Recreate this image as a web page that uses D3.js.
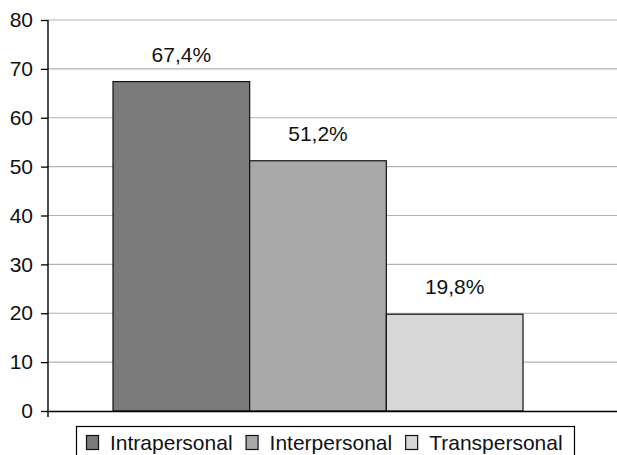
<!DOCTYPE html>
<html>
<head>
<meta charset="utf-8">
<script src="https://cdn.jsdelivr.net/npm/d3@7"></script>
<style>
  html, body { margin: 0; padding: 0; background: #fff; }
  svg { display: block; font-family: "Liberation Sans", Arial, Helvetica, sans-serif; }
</style>
</head>
<body>
<svg id="chart" width="617" height="455"></svg>
<script>
const series = ["Intrapersonal", "Interpersonal", "Transpersonal"];
const values = [67.4, 51.2, 19.8];
const valueLabels = ["67,4%", "51,2%", "19,8%"];
const colors = ["#7b7b7b", "#a9a9a9", "#d7d7d7"];
const yTicks = [0, 10, 20, 30, 40, 50, 60, 70, 80];

(function () {
const svg = d3.select("#chart");
const plotLeft = 48, plotRight = 617, plotTop = 20, plotBottom = 411;
const fontSize = 21;

const y = d3.scaleLinear().domain([0, 80]).range([plotBottom, plotTop]);
const x = d3.scaleBand().domain(series).range([113, 523]).paddingInner(0).paddingOuter(0);
const color = d3.scaleOrdinal().domain(series).range(colors);

// gridlines
svg.append("g")
  .selectAll("line")
  .data(yTicks.filter(d => d > 0))
  .join("line")
  .attr("x1", plotLeft).attr("x2", plotRight)
  .attr("y1", d => y(d)).attr("y2", d => y(d))
  .attr("stroke", "#b3b3b3").attr("stroke-width", 1.2);

// bars
svg.append("g")
  .selectAll("rect")
  .data(series)
  .join("rect")
  .attr("x", d => x(d))
  .attr("y", (d, i) => y(values[i]))
  .attr("width", x.bandwidth())
  .attr("height", (d, i) => y(0) - y(values[i]))
  .attr("fill", d => color(d))
  .attr("stroke", "#111").attr("stroke-width", 1.2);

// value labels
svg.append("g")
  .selectAll("text")
  .data(series)
  .join("text")
  .attr("x", d => x(d) + x.bandwidth() / 2)
  .attr("y", (d, i) => y(values[i]) - 20)
  .attr("text-anchor", "middle")
  .attr("font-size", fontSize)
  .attr("fill", "#111")
  .text((d, i) => valueLabels[i]);

// y axis
const yAxis = d3.axisLeft(y).tickValues(yTicks).tickSize(7).tickPadding(8).tickFormat(d3.format("d"));
const gy = svg.append("g").attr("transform", `translate(${plotLeft},0)`).call(yAxis);
gy.select(".domain").attr("stroke", "#000").attr("stroke-width", 1.4).attr("d", `M0,${plotTop}V${plotBottom + 6}`);
gy.selectAll(".tick line").attr("stroke", "#000").attr("stroke-width", 1.3);
gy.selectAll(".tick text").attr("font-size", fontSize).attr("fill", "#111")
  .attr("font-family", '"Liberation Sans", Arial, Helvetica, sans-serif');

// x axis baseline
const xBase = d3.scaleLinear().domain([0, 1]).range([plotLeft, plotRight]);
const gx = svg.append("g").attr("transform", `translate(0,${plotBottom})`)
  .call(d3.axisBottom(xBase).tickValues([]).tickSizeOuter(0));
gx.select(".domain").attr("stroke", "#000").attr("stroke-width", 1.4);

// legend
const lg = svg.append("g");
lg.append("rect")
  .attr("x", 76.5).attr("y", 426.5).attr("width", 498).attr("height", 40)
  .attr("fill", "#fff").attr("stroke", "#000").attr("stroke-width", 1.2);
let cx = 86;
series.forEach((s, i) => {
  lg.append("rect")
    .attr("x", cx + 0.5).attr("y", 435.5).attr("width", 12).attr("height", 14)
    .attr("fill", color(s)).attr("stroke", "#111").attr("stroke-width", 1.2);
  const t = lg.append("text")
    .attr("x", cx + 24).attr("y", 450)
    .attr("font-size", fontSize).attr("fill", "#111")
    .text(s);
  const w = t.node().getComputedTextLength();
  cx = cx + 24 + w + 13;
});
})();
</script>
</body>
</html>
